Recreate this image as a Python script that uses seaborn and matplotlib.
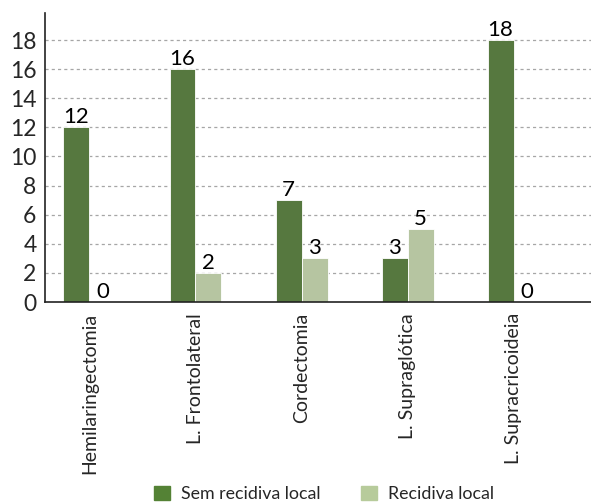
import matplotlib
matplotlib.use("Agg")
import matplotlib.pyplot as plt
import seaborn as sns
import pandas as pd

categories = ["Hemilaringectomia", "L. Frontolateral", "Cordectomia",
              "L. Supraglótica", "L. Supracricoideia"]
sem_recidiva = [12, 16, 7, 3, 18]
recidiva = [0, 2, 3, 5, 0]
series_names = ["Sem recidiva local", "Recidiva local"]
y_ticks = [0, 2, 4, 6, 8, 10, 12, 14, 16, 18]

colors = {"Sem recidiva local": "#548235", "Recidiva local": "#B7CB9B"}

df = pd.DataFrame({
    "Tipo": categories * 2,
    "Casos": sem_recidiva + recidiva,
    "Grupo": [series_names[0]] * len(categories) + [series_names[1]] * len(categories),
})

sns.set_theme(style="white")
plt.rcParams["font.family"] = ["Lato", "DejaVu Sans"]

fig = plt.figure(figsize=(5.91, 5.03), dpi=100)
ax = fig.add_axes([0.076, 0.3996, 0.924, 0.5744])

sns.barplot(data=df, x="Tipo", y="Casos", hue="Grupo", order=categories,
            hue_order=series_names, palette=colors, width=0.49,
            edgecolor="white", linewidth=0.6, ax=ax, legend=False)

for cont in ax.containers:
    ax.bar_label(cont, fmt="%d", padding=0, fontsize=16, color="black")

ax.set_ylim(0, 19.85)
ax.set_xlim(-0.42, 4.73)
ax.set_yticks(y_ticks)
ax.set_yticklabels([str(v) for v in y_ticks], fontsize=16.5)
ax.tick_params(axis="y", length=0, pad=6)
ax.tick_params(axis="x", length=0, pad=8)
ax.set_xticks(range(len(categories)))
ax.set_xticklabels(categories, rotation=90, fontsize=14, va="top", ha="center")
ax.set_xlabel("")
ax.set_ylabel("")

for v in y_ticks[1:]:
    ax.axhline(v, color="#A6A6A6", linestyle=(0, (2.5, 2.5)), linewidth=0.9, zorder=0)

for side in ["top", "right"]:
    ax.spines[side].set_visible(False)
for side in ["left", "bottom"]:
    ax.spines[side].set_color("#222222")
    ax.spines[side].set_linewidth(1.2)

handles = [plt.Rectangle((0, 0), 1, 1, color=colors[s]) for s in series_names]
fig.legend(handles, series_names, loc="center", ncol=2,
           bbox_to_anchor=(0.548, 0.018), frameon=False, fontsize=12.8,
           handlelength=0.9, handleheight=0.9, columnspacing=2.3, handletextpad=0.6)

fig.savefig("out.png", dpi=100)
